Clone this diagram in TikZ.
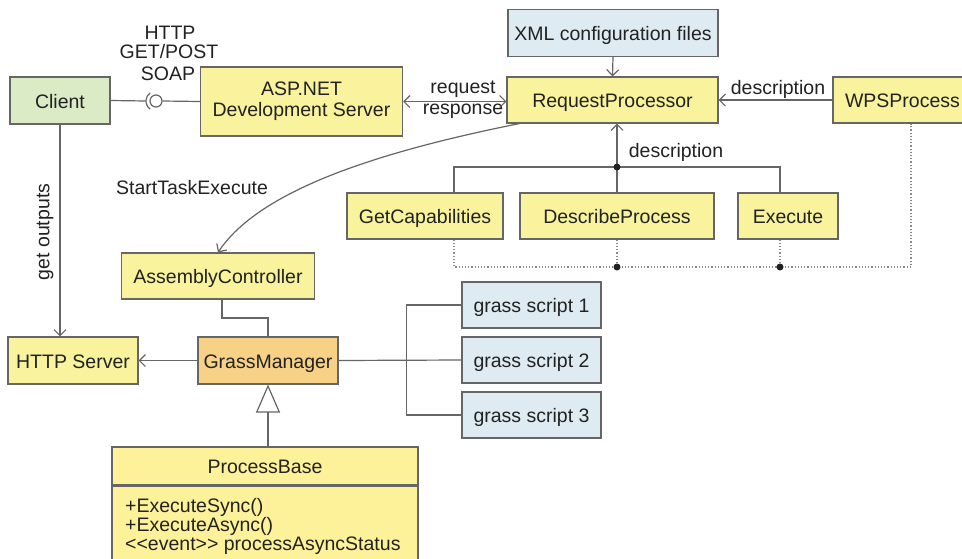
\documentclass[tikz,border=0pt]{standalone}
\usepackage{fontspec}
\setmainfont{Liberation Sans}[Ligatures=NoCommon]
\usetikzlibrary{arrows.meta,calc}
\definecolor{lc}{HTML}{666666}
\definecolor{dc}{HTML}{8A8A8A}
\definecolor{tc}{HTML}{222222}
\definecolor{yel}{HTML}{F8F39C}
\definecolor{grn}{HTML}{DAEBC6}
\definecolor{blu}{HTML}{DEEBF2}
\definecolor{org}{HTML}{F7D186}
\definecolor{pby}{HTML}{FDF199}
\begin{document}
\begin{tikzpicture}[x=1pt,y=-1pt,
  every node/.style={font=\fontsize{19.5}{21}\selectfont, text=tc},
  boxbase/.style={draw=lc, line width=1.1pt, fill=yel, minimum height=46pt, inner sep=0pt, align=center},
  box/.style={boxbase, text height=17pt, text depth=2pt},
  conn/.style={draw=lc, line width=1.2pt},
  barb/.tip={Straight Barb[length=6pt,width=12pt,line width=1.2pt]},
  tip/.style={-barb},
  dots/.style={draw=dc, line width=1.2pt, dotted},
  lbl/.style={inner sep=0pt}
]
\useasboundingbox (0,0) rectangle (962,558);
\clip (0,0) rectangle (962,558);
\fill[white] (0,0) rectangle (962,558);

% nodes
\node[box, fill=grn, minimum width=100pt, minimum height=47pt] (client) at (60,100.5) {Client};
\node[boxbase, minimum width=202pt, minimum height=69pt] (asp) at (301.5,101.5) {ASP.NET\\Development Server};
\node[box, fill=blu, minimum width=210pt, minimum height=47pt] (xml) at (613,33) {XML configuration files};
\node[box, minimum width=211pt] (rp) at (612.5,100) {RequestProcessor};
\node[box, minimum width=134pt, text width=130pt, align=left] (wps) at (900,100) {\hspace*{10pt}WPSProcess};
\node[box, minimum width=156pt] (gc) at (425,216) {GetCapabilities};
\node[box, minimum width=194pt] (dp) at (617,216) {DescribeProcess};
\node[box, minimum width=100pt] (ex) at (788,216) {Execute};
\node[box, minimum width=193pt] (ac) at (218,276) {AssemblyController};
\node[box, minimum width=130pt, minimum height=47pt] (hs) at (73,360.5) {HTTP Server};
\node[box, fill=org, minimum width=140pt, minimum height=47pt] (gm) at (268,360.5) {GrassManager};
\node[box, fill=blu, minimum width=139pt] (g1) at (531.5,305) {grass script 1};
\node[box, fill=blu, minimum width=139pt] (g2) at (531.5,360) {grass script 2};
\node[box, fill=blu, minimum width=139pt] (g3) at (531.5,415) {grass script 3};
\node[box, fill=pby, minimum width=306pt, minimum height=38pt] (pbh) at (265,466) {ProcessBase};
\node[boxbase, fill=pby, minimum width=306pt, minimum height=80pt, anchor=north] (pbb) at (pbh.south) {};
\node[lbl, anchor=west] (m1) at (125,507) {+ExecuteSync()};
\node[lbl, anchor=west] (m2) at (125,526.5) {+ExecuteAsync()};
\node[lbl, anchor=west] (m3) at (125,546) {{<}{<}event{>}{>} processAsyncStatus};

% labels
\node[lbl] (lhttp) at (170,33) {HTTP};
\node[lbl] (lget) at (169,52) {GET/POST};
\node[lbl] (lsoap) at (168,74) {SOAP};
\node[lbl] (lreq) at (463,89) {request};
\node[lbl] (lres) at (463,111) {response};
\node[lbl] (ldesc) at (778,89) {description};
\node[lbl] (ldesc2) at (676,152) {description};
\node[lbl] (lste) at (192,188) {StartTaskExecute};
\node[lbl, rotate=90] (lgo) at (45,232) {get outputs};

% lollipop
\node[circle, draw=lc, line width=1.2pt, fill=white, minimum size=12pt, inner sep=0pt] (ball) at (156,101) {};
\coordinate (sock) at (146,101);
\draw[conn] (client.east) -- (sock);
\draw[conn] (ball.east) -- (asp.west);
\draw[conn] ($(ball.center)+(125:10)$) arc[start angle=125, end angle=235, radius=10];

% connectors
\draw[conn, barb-barb] (asp.east) -- (asp.east -| rp.west);
\draw[conn, tip] (xml.south) -- (rp.north);
\draw[conn, tip] (wps.west) -- (rp.east);

\coordinate (j) at (617,167);
\draw[conn, tip] (j) -- (j |- rp.south);
\draw[conn] ([xshift=29pt]gc.north) |- (j) -| ([xshift=-8pt]ex.north);
\draw[conn] (dp.north) -- (j);
\fill[tc] (j) circle[radius=3.5pt];

\coordinate (d1) at (617,267);
\coordinate (d2) at (780,267);
\draw[dots] ([xshift=29pt]gc.south) |- (d1) -- (d2) -| ([xshift=11pt]wps.south);
\draw[dots] (dp.south) -- (d1);
\draw[dots] ([xshift=-8pt]ex.south) -- (d2);
\fill[tc] (d1) circle[radius=3.5pt];
\fill[tc] (d2) circle[radius=3.5pt];

\draw[conn, tip] (client.south) -- (client.south |- hs.north);
\draw[conn, tip] ([xshift=13pt]rp.south west) .. controls +(-150,30) and +(40,-60) .. (ac.north);
\draw[conn] ([xshift=4pt]ac.south) |- ($(ac.south)!0.5!(gm.north)$) -| (gm.north);
\draw[conn, tip] (gm.west) -- (hs.east);
\draw[conn] (gm.east) -- (g2.west);
\draw[conn] (g1.west) -- ++(-55,0) |- (g3.west);
\draw[conn, -{Triangle[open, fill=white, length=28pt, width=24pt, line width=1.2pt]}] (pbh.north -| gm.south) -- (gm.south);
\end{tikzpicture}
\end{document}
